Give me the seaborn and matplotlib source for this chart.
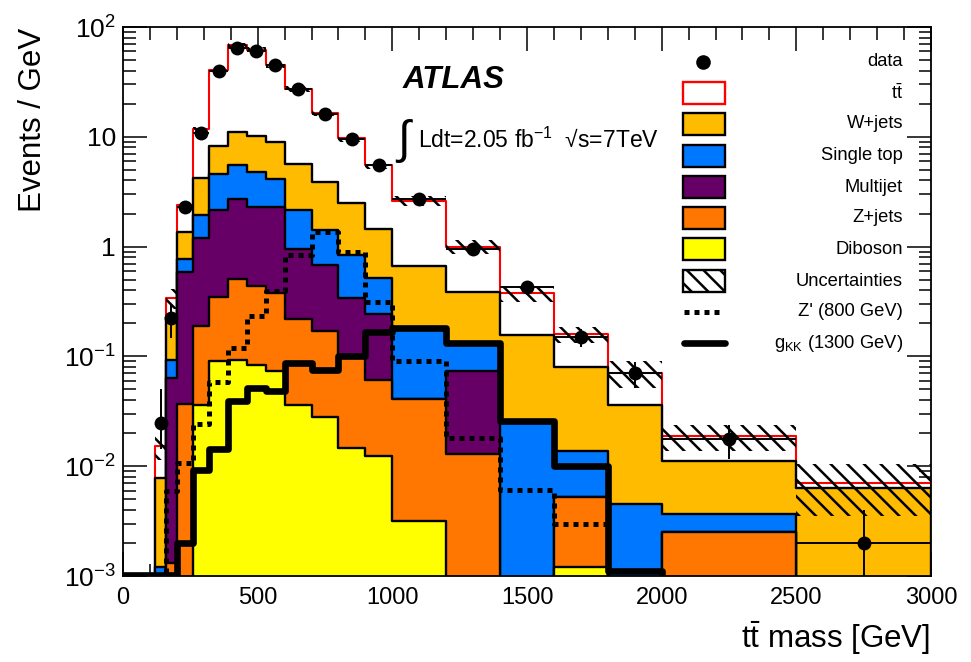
import numpy as np
import pandas as pd
import matplotlib
matplotlib.use("Agg")
import matplotlib.pyplot as plt
import seaborn as sns
from matplotlib.patches import Rectangle
from matplotlib.lines import Line2D
from matplotlib.ticker import MultipleLocator, FixedLocator, FixedFormatter, LogLocator, NullFormatter

# ------------------------------------------------------------------ data
bin_edges = [120, 160, 200, 260, 320, 390, 460, 530, 600, 700, 800, 900,
             1000, 1200, 1400, 1600, 1800, 2000, 2500, 3000]

diboson    = [0, 0, 0, 0.036, 0.090, 0.093, 0.084, 0.074, 0.036, 0.028, 0.0147,
              0.0123, 0.0032, 0, 0, 0.0012, 0, 0, 0]
z_jets     = [0, 0.0013, 0.037, 0.154, 0.26, 0.41, 0.35, 0.30, 0.184, 0.142, 0.087,
              0.049, 0.038, 0.0129, 0, 0.004, 0, 0.0025, 0]
multijet   = [0, 0.062, 0.55, 1.0, 1.82, 2.2, 1.87, 1.93, 0.74, 0.51, 0.24,
              0.18, 0, 0.060, 0, 0, 0, 0, 0]
single_top = [0.0012, 0.029, 0.19, 0.75, 2.43, 2.8, 2.5, 1.8, 1.2, 0.74, 0.50,
              0.275, 0.139, 0.057, 0.025, 0.0085, 0.0045, 0.00115, 0]
w_jets     = [0.0066, 0.137, 0.59, 2.24, 3.6, 5.6, 5.3, 4.9, 3.44, 2.48, 1.64,
              0.945, 0.49, 0.255, 0.132, 0.067, 0.0315, 0.0075, 0.0063]
ttbar      = [0.0074, 0.11, 1.03, 7.5, 32.8, 57, 52, 36, 21.9, 12.5, 7.2,
              4.04, 1.93, 0.615, 0.22, 0.079, 0.035, 0.0076, 0.0007]
unc_rel    = [0.25, 0.2, 0.08, 0.06, 0.05, 0.05, 0.05, 0.05, 0.06, 0.06, 0.07,
              0.08, 0.10, 0.14, 0.17, 0.17, 0.27, 0.27, 0.5]

data        = [0.025, 0.223, 2.31, 10.9, 40, 65, 60, 45.4, 27.2, 16, 9.5, 5.5,
               2.7, 0.95, 0.427, 0.149, 0.0707, 0.0177, 0.002]
data_err_lo = [0.0107, 0.075, 0.2, 0.43, 0.76, 0.96, 0.93, 0.8, 0.52, 0.4, 0.31,
               0.23, 0.12, 0.07, 0.046, 0.027, 0.019, 0.006, 0.00199]
data_err_hi = [0.025, 0.075, 0.2, 0.43, 0.76, 0.96, 0.93, 0.8, 0.52, 0.4, 0.31,
               0.23, 0.12, 0.07, 0.046, 0.027, 0.019, 0.006, 0.002]

signal_edges = [0] + bin_edges
zprime = [0, 0, 0.006, 0.0108, 0.024, 0.058, 0.119, 0.231, 0.395, 0.84, 1.37,
          0.9, 0.316, 0.091, 0.0179, 0.0061, 0.00295, 0, 0, 0]
gkk    = [0.00103, 0.00103, 0.00103, 0.0020, 0.0093, 0.0142, 0.039, 0.052, 0.048,
          0.087, 0.075, 0.10, 0.168, 0.181, 0.132, 0.0257, 0.010, 0.0011, 0, 0]

x_ticks = [0, 500, 1000, 1500, 2000, 2500, 3000]
y_ticks = [1e-3, 1e-2, 1e-1, 1, 10, 100]
y_tick_labels = [r'10$^{-3}$', r'10$^{-2}$', r'10$^{-1}$', '1', '10', r'10$^{2}$']

process_names  = ['Diboson', 'Z+jets', 'Multijet', 'Single top', 'W+jets', 'ttbar']
process_colors = ['#FFFF00', '#FF7700', '#660066', '#0077FF', '#FFBB00', '#FFFFFF']

# ------------------------------------------------------------------ style
sns.set_style("ticks")
plt.rcParams['font.family'] = ['Liberation Sans', 'DejaVu Sans']
plt.rcParams['mathtext.fontset'] = 'custom'
plt.rcParams['mathtext.rm'] = 'Liberation Sans'
plt.rcParams['mathtext.it'] = 'Liberation Sans:italic'
plt.rcParams['mathtext.bf'] = 'Liberation Sans:bold'
plt.rcParams['hatch.linewidth'] = 1.8
plt.rcParams['axes.linewidth'] = 1.3
for k in ['text.color', 'axes.labelcolor', 'xtick.color', 'ytick.color', 'axes.edgecolor']:
    plt.rcParams[k] = 'black'

W, H = 971, 662
fig = plt.figure(figsize=(W / 100, H / 100), dpi=100)
ax_l, ax_r, ax_t, ax_b = 123, 931, 27, 576
ax = fig.add_axes([ax_l / W, 1 - ax_b / H, (ax_r - ax_l) / W, (ax_b - ax_t) / H])

edges = np.array(bin_edges, dtype=float)
centers = 0.5 * (edges[:-1] + edges[1:])
halfw = 0.5 * (edges[1:] - edges[:-1])
sedges = np.array(signal_edges, dtype=float)
scenters = 0.5 * (sedges[:-1] + sedges[1:])

stack = np.array([diboson, z_jets, multijet, single_top, w_jets, ttbar], dtype=float)
cum = np.cumsum(stack, axis=0)
total = cum[-1]

# stacked histogram, drawn top-down (each cumulative level filled from zero)
for i in range(len(process_names) - 1, -1, -1):
    is_tt = process_names[i] == 'ttbar'
    sns.histplot(x=centers, weights=cum[i], bins=bin_edges, element='step',
                 fill=True, color=process_colors[i], alpha=1,
                 edgecolor='red' if is_tt else 'black',
                 linewidth=1.5 if is_tt else 1.7, ax=ax, zorder=2 + (5 - i) * 0.01)

# uncertainty band
unc = np.array(unc_rel) * total
ax.stairs(total + unc, edges, baseline=np.maximum(total - unc, 1e-7), fill=True,
          facecolor='none', edgecolor='black', hatch='\\\\', linewidth=0, zorder=3)

# signals
sns.histplot(x=scenters, weights=zprime, bins=signal_edges, element='step', fill=False,
             color='black', linewidth=3.6, linestyle=(0, (1, 1)), ax=ax, zorder=4)
sns.histplot(x=scenters, weights=gkk, bins=signal_edges, element='step', fill=False,
             color='black', linewidth=4.8, ax=ax, zorder=4)

# data
ax.errorbar(centers, data, yerr=[data_err_lo, data_err_hi], xerr=halfw, fmt='none',
            ecolor='black', elinewidth=1.4, capsize=0, zorder=9)
sns.scatterplot(x=centers, y=data, color='black', s=100, linewidth=0, zorder=10,
                legend=False, ax=ax)

# axes
ax.set_yscale('log')
ax.set_xlim(0, 3000)
ax.set_ylim(1e-3, 1e2)
ax.set_xlabel('')
ax.set_ylabel('')
ax.xaxis.set_major_locator(FixedLocator(x_ticks))
ax.xaxis.set_minor_locator(MultipleLocator(100))
ax.yaxis.set_major_locator(FixedLocator(y_ticks))
ax.yaxis.set_major_formatter(FixedFormatter(y_tick_labels))
ax.yaxis.set_minor_locator(LogLocator(base=10, subs=np.arange(2, 10)))
ax.yaxis.set_minor_formatter(NullFormatter())
ax.tick_params(which='both', direction='in', top=True, right=True, width=1.1,
               color='black', labelcolor='black')
ax.tick_params(which='major', length=17)
ax.tick_params(which='minor', length=9)
ax.tick_params(axis='x', which='major', labelsize=17, pad=8)
ax.tick_params(axis='y', which='major', labelsize=19, pad=5)
for s in ax.spines.values():
    s.set_color('black')
    s.set_zorder(20)

fig.text(33 / W, 1 - 28 / H, 'Events / GeV', rotation=90, ha='center', va='top',
         fontsize=22.5, color='black')
fig.text(930 / W, 1 - 638 / H, r'$\mathrm{t\bar{t}}$ mass [GeV]', ha='right', va='center',
         fontsize=22.5, color='black')

fig.text(403 / W, 1 - 80 / H, 'ATLAS', fontsize=22.5, fontweight='bold', fontstyle='italic',
         va='center', ha='left', color='black')
fig.text(397 / W, 1 - 141 / H, '\u222b', fontsize=33, va='center', ha='left', color='black')
fig.text(418 / W, 1 - 140 / H, r'Ldt=2.05 fb$^{-1}$  ' + '\u221as=7TeV', fontsize=16.5,
         va='center', ha='left', color='black')

# legend (ROOT style, drawn by hand)
def afr(px, py):
    return ((px - ax_l) / (ax_r - ax_l), (ax_b - py) / (ax_b - ax_t))

legend_rows = [
    ('data', 62, 'marker', None),
    (r'$\mathrm{t\bar{t}}$', 93, 'box', process_colors[5]),
    ('W+jets', 124, 'box', process_colors[4]),
    ('Single top', 156, 'box', process_colors[3]),
    ('Multijet', 187, 'box', process_colors[2]),
    ('Z+jets', 218, 'box', process_colors[1]),
    ('Diboson', 249, 'box', process_colors[0]),
    ('Uncertainties', 281, 'hatch', None),
    ("Z' (800 GeV)", 312, 'dotted', None),
    (r'g$_{\mathrm{KK}}$ (1300 GeV)', 343, 'thick', None),
]
bx0, bx1 = 683, 725
for label, py, kind, col in legend_rows:
    x0, y0 = afr(bx0, py + 11)
    x1, y1 = afr(bx1, py - 11)
    if kind == 'marker':
        xm, ym = afr(703, py)
        ax.plot([xm], [ym], 'o', color='black', markersize=9.5, transform=ax.transAxes,
                clip_on=False, zorder=30)
    elif kind == 'box':
        ec = 'red' if label.startswith(r'$\mathrm{t') else 'black'
        ax.add_patch(Rectangle((x0, y0), x1 - x0, y1 - y0, facecolor=col, edgecolor=ec,
                               linewidth=1.7, transform=ax.transAxes, clip_on=False, zorder=30))
    elif kind == 'hatch':
        ax.add_patch(Rectangle((x0, y0), x1 - x0, y1 - y0, facecolor='white', edgecolor='black',
                               hatch='\\\\', linewidth=1.7, transform=ax.transAxes,
                               clip_on=False, zorder=30))
    elif kind == 'dotted':
        xa, ya = afr(bx0 + 1, py)
        xb, yb = afr(bx1 - 1, py)
        ax.add_line(Line2D([xa, xb], [ya, yb], color='black', linewidth=3.6,
                           linestyle=(0, (1, 1)), transform=ax.transAxes, clip_on=False, zorder=30))
    elif kind == 'thick':
        xa, ya = afr(bx0 + 1, py)
        xb, yb = afr(bx1, py)
        ax.add_line(Line2D([xa, xb], [ya, yb], color='black', linewidth=4.8,
                           transform=ax.transAxes, clip_on=False, zorder=30))
    xt, yt = afr(903, py)
    ax.text(xt, yt, label, ha='right', va='center', fontsize=13.2, transform=ax.transAxes,
            zorder=30, color='black')

fig.savefig('out.png', dpi=100)
